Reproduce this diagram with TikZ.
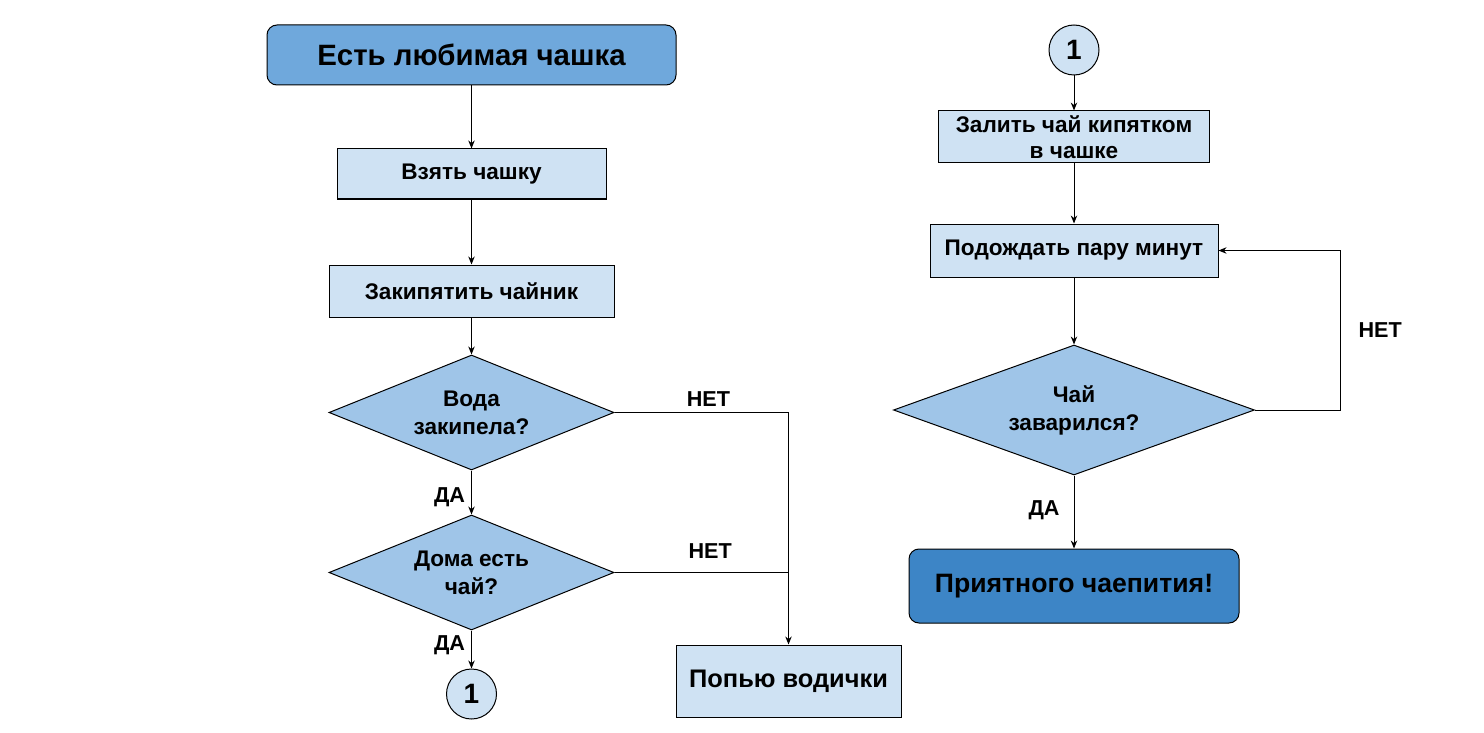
\documentclass[tikz,border=0pt]{standalone}
\usepackage{fontspec}
\setmainfont{Liberation Sans}
\usetikzlibrary{positioning,arrows.meta,shapes.geometric}
\definecolor{termblue}{HTML}{6FA8DC}
\definecolor{endblue}{HTML}{3D85C6}
\definecolor{actblue}{HTML}{CFE2F3}
\definecolor{condblue}{HTML}{9FC5E8}

\begin{document}
\begin{tikzpicture}[x=0.5pt, y=-0.5pt, line width=0.5pt, >={Stealth[length=4pt,width=3.2pt]},
  term/.style={draw, rounded corners=5pt, inner sep=0pt, font=\fontsize{14.7}{17}\selectfont\bfseries},
  act/.style={draw, fill=actblue, inner sep=0pt, align=center, font=\fontsize{11.3}{13}\selectfont\bfseries},
  cond/.style={draw, diamond, fill=condblue, inner sep=0pt, align=center, font=\fontsize{11.3}{14}\selectfont\bfseries},
  conn/.style={draw, circle, fill=actblue, inner sep=0pt, minimum size=25pt, font=\fontsize{14}{16}\selectfont\bfseries},
  lbl/.style={font=\fontsize{10.8}{12}\selectfont\bfseries, inner sep=1pt}]
\useasboundingbox (0,0) rectangle (1484,733);
% left column
\node[term, fill=termblue, minimum width=204.5pt, minimum height=30pt] (start) at (471.5,55) {Есть любимая чашка};
\node[act, minimum width=134.5pt, minimum height=25pt, below=31.5pt of start] (take) {Взять чашку};
\node[act, minimum width=142.5pt, minimum height=26pt, below=32.5pt of take] (kettle) {Закипятить чайник};
\node[cond, aspect=2.48, minimum width=142.5pt, minimum height=57.5pt, below=18.5pt of kettle] (boiled) {Вода\\закипела?};
\node[cond, aspect=2.48, minimum width=142.5pt, minimum height=57.5pt, below=22pt of boiled] (hastea) {Дома есть\\чай?};
\node[conn, below=19pt of hastea] (jumpout) {1};
\node[act, minimum width=112.5pt, minimum height=36pt, font=\fontsize{12.7}{15}\selectfont\bfseries] (water) at (788.5,681) {Попью водички};
% right column
\node[conn] (jumpin) at (1074,50) {1};
\node[act, minimum width=135.5pt, minimum height=26pt, below=17.5pt of jumpin] (pour) {Залить чай кипятком\\в чашке};
\node[act, minimum width=144pt, minimum height=26.5pt, below=30pt of pour] (wait) {Подождать пару минут};
\node[cond, aspect=2.78, minimum width=180.5pt, minimum height=65pt, below=33.5pt of wait] (brewed) {Чай\\заварился?};
\node[term, fill=endblue, minimum width=165pt, minimum height=37pt, font=\fontsize{13.3}{16}\selectfont\bfseries, below=36.5pt of brewed] (enjoy) {Приятного чаепития!};
% connectors
\draw[->] (start) -- (take);
\draw[->] (take) -- (kettle);
\draw[->] (kettle) -- (boiled);
\draw[->] (boiled) -- node[lbl, left=2pt, pos=0.6] {ДА} (hastea);
\draw[->] (hastea) -- node[lbl, left=2pt, pos=0.4] {ДА} (jumpout);
\draw[->] (boiled.east) -| node[lbl, above=2pt, pos=0.27] {НЕТ} (water.north);
\draw (hastea.east) -- node[lbl, above=6pt, pos=0.55] {НЕТ} (hastea.east -| water.north);
\draw[->] (jumpin) -- (pour);
\draw[->] (pour) -- (wait);
\draw[->] (wait) -- (brewed);
\draw[->] (brewed) -- node[lbl, left=6pt, pos=0.48] {ДА} (enjoy);
\draw[->] (brewed.east) -- ++(85,0) |- node[lbl, right=8pt, pos=0.25] {НЕТ} (wait.east);
\end{tikzpicture}
\end{document}
